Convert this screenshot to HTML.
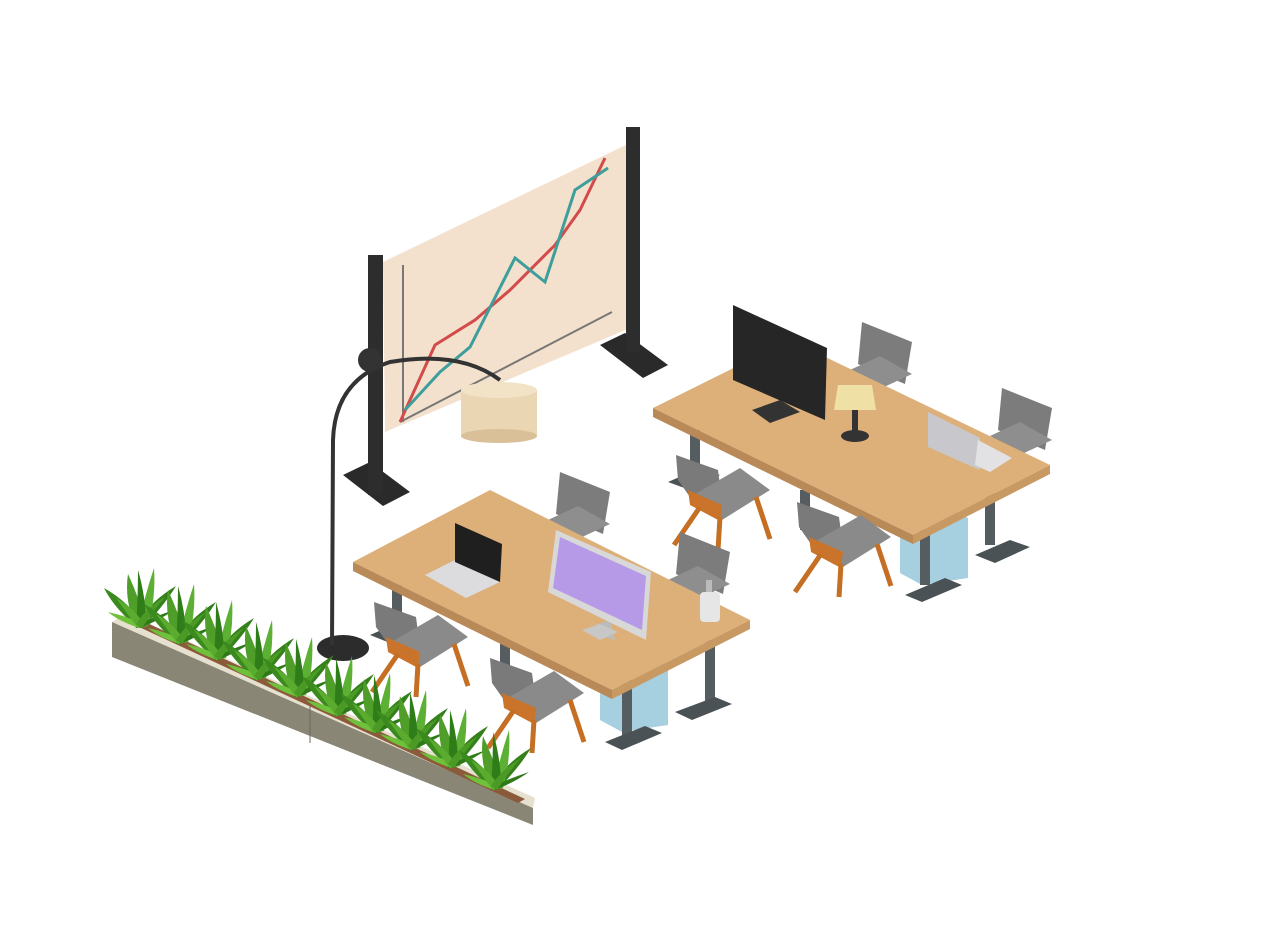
<!DOCTYPE html>
<html><head><meta charset="utf-8"><style>html,body{margin:0;padding:0;background:#fff}svg{display:block}</style></head>
<body>
<svg width="1278" height="942" viewBox="0 0 1278 942" xmlns="http://www.w3.org/2000/svg">
<defs>
<g id="fchair">
 <polygon points="2,0 44,15 48,45 16,42 4,25" fill="#7a7a7a"/>
 <polygon points="16,42 66,13 96,35 48,65" fill="#8a8a8a"/>
 <polygon points="14,35 48,50 46,66 16,50" fill="#c9742a"/>
 <line x1="26" y1="52" x2="0" y2="90" stroke="#c56f25" stroke-width="5"/>
 <line x1="46" y1="62" x2="44" y2="95" stroke="#c56f25" stroke-width="5"/>
 <line x1="82" y1="42" x2="96" y2="84" stroke="#c56f25" stroke-width="5"/>
</g>
<g id="bchair">
 <polygon points="12,0 62,20 55,62 8,42" fill="#7c7c7c"/>
 <polygon points="0,48 30,34 62,52 32,66" fill="#8e8e8e"/>
</g>
<g id="plant">
 <path d="M-2,0 Q-26,-20 -36,-40 Q-14,-28 4,-4 Z" fill="#3a8a1e"/>
 <path d="M2,0 Q24,-22 36,-42 Q12,-28 -4,-4 Z" fill="#34801b"/>
 <path d="M-4,0 Q-16,-28 -12,-54 Q0,-28 6,-4 Z" fill="#4f9e2a"/>
 <path d="M-2,0 Q4,-30 14,-60 Q16,-30 8,-2 Z" fill="#5cb033"/>
 <path d="M-4,0 Q-2,-32 -2,-58 Q6,-30 6,-4 Z" fill="#2f7d18"/>
 <path d="M0,0 Q-20,-6 -32,-16 Q-14,-12 4,-4 Z" fill="#6fc03b"/>
 <path d="M0,0 Q20,-8 34,-18 Q16,-12 -2,-4 Z" fill="#2e7a18"/>
 <path d="M-2,0 Q-14,-16 -24,-30 Q-6,-20 4,-4 Z" fill="#5aab2e"/>
 <path d="M2,0 Q14,-18 26,-32 Q6,-20 -4,-4 Z" fill="#4b9a26"/>
</g>
</defs>

<polygon points="343,475 370,462 410,492 383,506" fill="#2a2a2a"/>
<rect x="368" y="255" width="15" height="240" fill="#2d2d2d"/>
<polygon points="383,262 630,143 630,328 385,432" fill="#f4e1cd"/>
<polygon points="600,345 625,333 668,365 643,378" fill="#2a2a2a"/>
<rect x="626" y="127" width="14" height="225" fill="#2d2d2d"/>
<line x1="403" y1="265" x2="403" y2="422" stroke="#777" stroke-width="2"/>
<line x1="400" y1="422" x2="612" y2="312" stroke="#777" stroke-width="2"/>
<polyline points="400,422 435,345 475,320 510,290 555,245 580,210 605,158" fill="none" stroke="#d24a4a" stroke-width="3"/>
<polyline points="405,410 440,372 470,347 515,258 545,282 575,190 608,168" fill="none" stroke="#3e9e9b" stroke-width="3"/>
<circle cx="370" cy="360" r="12" fill="#333"/>

<ellipse cx="343" cy="648" rx="26" ry="13" fill="#2c2c2c"/>
<path d="M332,645 L333,440 Q335,380 390,362 Q460,350 500,380" fill="none" stroke="#333" stroke-width="4"/>
<rect x="461" y="390" width="76" height="46" fill="#ead6b3"/>
<ellipse cx="499" cy="436" rx="38" ry="7" fill="#d9c099"/>
<ellipse cx="499" cy="390" rx="38" ry="8" fill="#f2e3c7"/>

<polygon points="112,622 126,613 535,798 533,808" fill="#e6e0cf"/>
<polygon points="112,622 533,808 533,825 112,657" fill="#8a8676"/>
<polygon points="124,620 132,616 525,799 518,803" fill="#8b5a3a"/>
<line x1="310" y1="706" x2="310" y2="743" stroke="#6d695c" stroke-width="1"/>

<use href="#bchair" x="850" y="322"/>
<use href="#bchair" x="990" y="388"/>
<rect x="690" y="430" width="10" height="45" fill="#555d60"/>
<polygon points="668,482 700,468 720,475 690,490" fill="#4b5255"/>
<rect x="800" y="490" width="10" height="40" fill="#555d60"/>
<rect x="985" y="490" width="10" height="55" fill="#555d60"/>
<polygon points="975,555 1010,540 1030,547 995,563" fill="#4b5255"/>
<polygon points="900,520 945,506 968,518 968,578 922,585 900,573" fill="#a6cfe0"/>
<rect x="920" y="530" width="10" height="55" fill="#555d60"/>
<polygon points="905,595 945,578 962,585 922,602" fill="#4b5255"/>
<polygon points="653,408 790,340 1050,465 913,535" fill="#ddb07a"/>
<polygon points="653,408 913,535 913,544 653,417" fill="#b98a58"/>
<polygon points="913,535 1050,465 1050,474 913,544" fill="#c99963"/>
<polygon points="733,305 827,348 825,420 733,380" fill="#262626"/>
<polygon points="752,410 780,400 800,412 770,423" fill="#333"/>
<ellipse cx="855" cy="436" rx="14" ry="6" fill="#333"/>
<rect x="852" y="410" width="6" height="26" fill="#333"/>
<polygon points="838,385 872,385 876,410 834,410" fill="#efe1a6"/>
<polygon points="928,412 980,438 980,470 928,447" fill="#c8c8cc"/>
<polygon points="978,440 1012,458 990,472 975,465" fill="#e2e2e5"/>
<use href="#fchair" x="674" y="455"/>
<use href="#fchair" x="795" y="502"/>

<use href="#bchair" x="548" y="472"/>
<use href="#bchair" x="668" y="532"/>
<rect x="392" y="585" width="10" height="45" fill="#555d60"/>
<polygon points="370,635 400,622 420,630 390,643" fill="#4b5255"/>
<rect x="500" y="640" width="10" height="40" fill="#555d60"/>
<polygon points="600,668 645,655 668,666 668,725 622,732 600,720" fill="#a6cfe0"/>
<rect x="622" y="680" width="10" height="62" fill="#555d60"/>
<polygon points="605,742 645,726 662,733 622,750" fill="#4b5255"/>
<rect x="705" y="640" width="10" height="65" fill="#555d60"/>
<polygon points="675,712 715,697 732,704 692,720" fill="#4b5255"/>
<polygon points="353,562 490,490 750,620 612,690" fill="#ddb07a"/>
<polygon points="353,562 612,690 612,699 353,571" fill="#b98a58"/>
<polygon points="612,690 750,620 750,629 612,699" fill="#c99963"/>
<polygon points="425,575 455,560 500,582 466,598" fill="#dcdcdf"/>
<polygon points="455,523 502,544 500,582 455,562" fill="#1f1f1f"/>
<polygon points="595,625 610,620 615,640 600,636" fill="#bbb"/>
<polygon points="582,630 600,624 618,632 600,640" fill="#c7c7c7"/>
<polygon points="556,530 651,572 646,640 548,592" fill="#d8d8d8"/>
<polygon points="560,537 646,576 642,630 553,588" fill="#b69ae8"/>
<rect x="700" y="592" width="20" height="30" rx="4" fill="#e6e6e6"/>
<rect x="706" y="580" width="6" height="12" fill="#bbb"/>
<use href="#fchair" x="372" y="602"/>
<use href="#fchair" x="488" y="658"/>

<use href="#plant" x="140" y="628"/>
<use href="#plant" x="180" y="644"/>
<use href="#plant" x="218" y="660"/>
<use href="#plant" x="258" y="680"/>
<use href="#plant" x="298" y="697"/>
<use href="#plant" x="338" y="716"/>
<use href="#plant" x="376" y="733"/>
<use href="#plant" x="412" y="750"/>
<use href="#plant" x="452" y="768"/>
<use href="#plant" x="495" y="790"/>
</svg>
</body></html>
